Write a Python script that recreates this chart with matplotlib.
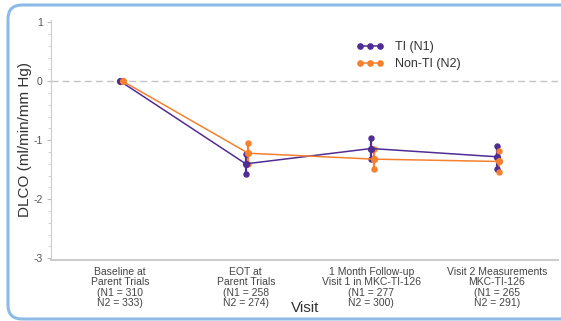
import matplotlib
matplotlib.use("Agg")
import matplotlib.pyplot as plt
from matplotlib.patches import FancyBboxPatch
from matplotlib.transforms import IdentityTransform
from matplotlib.ticker import MultipleLocator

plt.rcParams["font.family"] = "Liberation Sans"
plt.rcParams["axes.unicode_minus"] = False

# Data
visit_labels = [
    "Baseline at\nParent Trials\n(N1 = 310\nN2 = 333)",
    "EOT at\nParent Trials\n(N1 = 258\nN2 = 274)",
    "1 Month Follow-up\nVisit 1 in MKC-TI-126\n(N1 = 277\nN2 = 300)",
    "Visit 2 Measurements\nMKC-TI-126\n(N1 = 265\nN2 = 291)",
]
ti_mean = [0.0, -1.40, -1.14, -1.28]
ti_lo = [0.0, -1.58, -1.32, -1.48]
ti_hi = [0.0, -1.23, -0.97, -1.09]
nonti_mean = [0.0, -1.22, -1.32, -1.36]
nonti_lo = [0.0, -1.40, -1.49, -1.54]
nonti_hi = [0.0, -1.04, -1.14, -1.19]

purple = "#4f2d94"
orange = "#f5802e"

fig = plt.figure(figsize=(5.61, 3.21), dpi=100)
ax = fig.add_axes([0.091, 0.19, 0.904, 0.748])

# rounded frame around the figure
frame = FancyBboxPatch((8, 2), 600, 314, boxstyle="round,pad=0,rounding_size=14",
                       transform=IdentityTransform(), facecolor="none",
                       edgecolor="#8dbbe8", linewidth=2.2, zorder=-1)
fig.patches.append(frame)

ax.axhline(0, color="#c4c4c4", lw=1.0, dashes=(5, 3), zorder=0)

x = list(range(len(visit_labels)))
series = [
    ("TI (N1)", purple, [v - 0.0 for v in x], ti_mean, ti_lo, ti_hi),
    ("Non-TI (N2)", orange, [v + 0.02 for v in x], nonti_mean, nonti_lo, nonti_hi),
]
for label, color, xs, mean, lo, hi in series:
    ax.vlines(xs[1:], lo[1:], hi[1:], color=color, lw=1.6, zorder=2)
    ax.plot(xs[1:], lo[1:], "o", color=color, ms=3.6, zorder=3)
    ax.plot(xs[1:], hi[1:], "o", color=color, ms=3.6, zorder=3)
    ax.plot(xs, mean, "-o", color=color, lw=1.1, ms=4.2, label=label, zorder=4)

ax.set_xlim(-0.552, 3.49)
ax.set_ylim(-3.03, 1.04)
ax.set_xticks(x)
ax.set_xticklabels(visit_labels, fontsize=7.5, color="#444444", linespacing=1.05)
ax.tick_params(axis="x", length=0, pad=5)
ax.set_yticks([-3, -2, -1, 0, 1])
ax.yaxis.set_minor_locator(MultipleLocator(0.2))
ax.tick_params(axis="y", which="major", length=3, color="#bbbbbb", labelsize=7.5,
               labelcolor="#555555", pad=3)
ax.tick_params(axis="y", which="minor", length=2, color="#cccccc")

for s in ["top", "right"]:
    ax.spines[s].set_visible(False)
ax.spines["left"].set_color("#cccccc")
ax.spines["left"].set_linewidth(0.8)
ax.spines["bottom"].set_color("#cccccc")
ax.spines["bottom"].set_linewidth(1.5)

ax.set_ylabel("DLCO (ml/min/mm Hg)", fontsize=11, color="#333333", labelpad=1)
fig.text(305 / 561, 1 - 308 / 321, "Visit", fontsize=11, color="#333333",
         ha="center", va="center")

ax.legend(loc="upper left", bbox_to_anchor=(356 / 561, 1 - 41 / 321),
          bbox_transform=fig.transFigure, frameon=False, fontsize=9,
          numpoints=3, handlelength=2.2, handletextpad=0.9, labelspacing=0.4,
          borderpad=0, borderaxespad=0, labelcolor="#333333", markerscale=0.9)

fig.savefig("out.png", dpi=100)
